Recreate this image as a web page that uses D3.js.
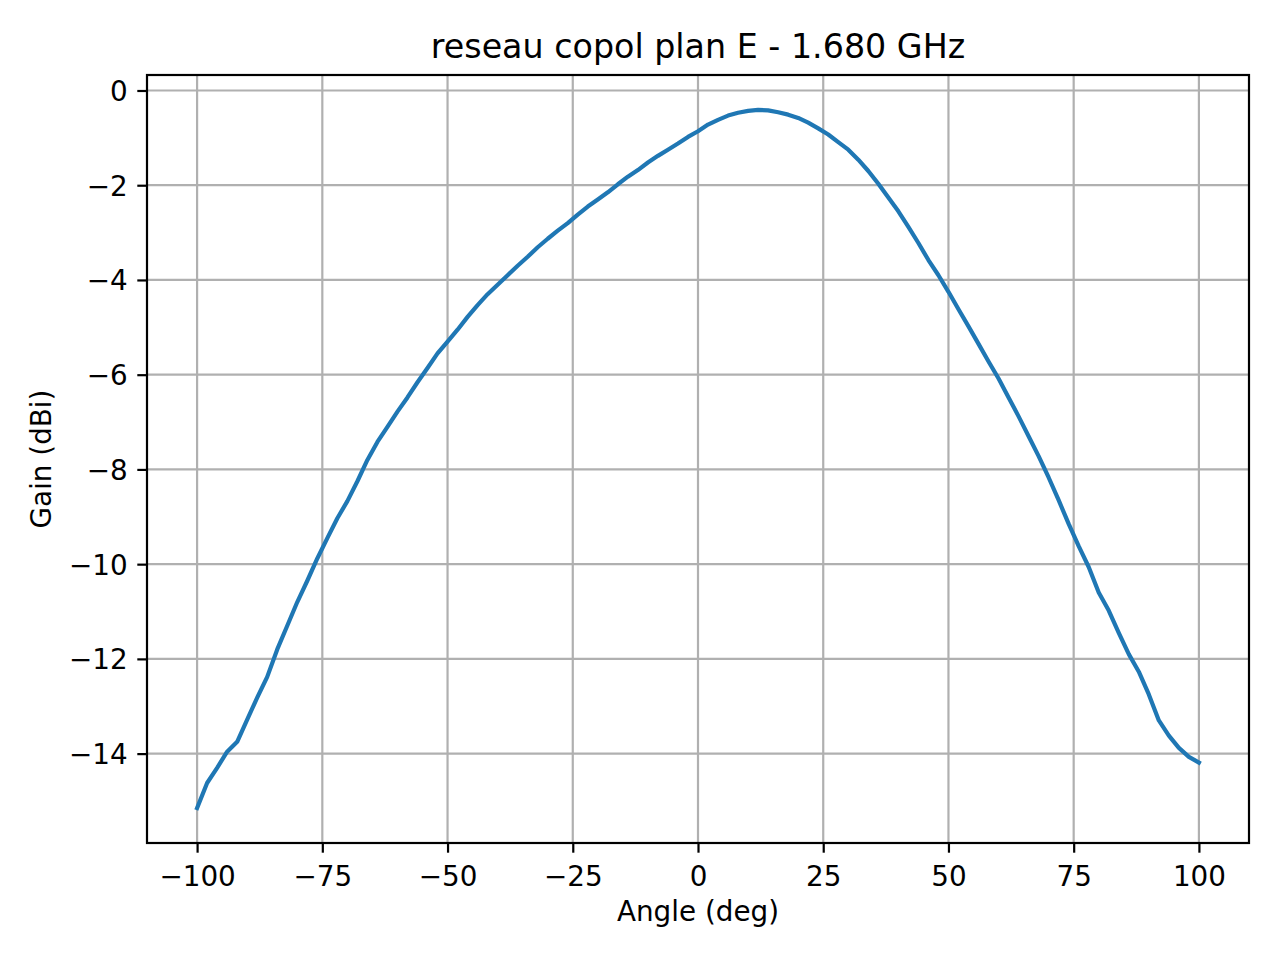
<!DOCTYPE html>
<html>
<head>
<meta charset="utf-8">
<script src="https://cdn.jsdelivr.net/npm/d3@7"></script>
<style>
  body { margin: 0; background: #fff; }
  svg { display: block; font-family: "DejaVu Sans", sans-serif; }
</style>
</head>
<body>
<svg id="chart" width="1280" height="960"></svg>
<script>
var angles = [-100,-98,-96,-94,-92,-90,-88,-86,-84,-82,-80,-78,-76,-74,-72,-70,-68,-66,-64,-62,
  -60,-58,-56,-54,-52,-50,-48,-46,-44,-42,-40,-38,-36,-34,-32,-30,-28,-26,-24,-22,
  -20,-18,-16,-14,-12,-10,-8,-6,-4,-2,0,2,4,6,8,10,12,14,16,18,
  20,22,24,26,28,30,32,34,36,38,40,42,44,46,48,50,52,54,56,58,
  60,62,64,66,68,70,72,74,76,78,80,82,84,86,88,90,92,94,96,98,100];
var gains = [-15.15,-14.62,-14.30,-13.96,-13.75,-13.28,-12.82,-12.38,-11.80,-11.30,
  -10.80,-10.35,-9.88,-9.45,-9.03,-8.67,-8.25,-7.80,-7.42,-7.10,
  -6.78,-6.48,-6.16,-5.86,-5.55,-5.30,-5.05,-4.78,-4.53,-4.30,
  -4.10,-3.90,-3.70,-3.51,-3.31,-3.13,-2.96,-2.80,-2.62,-2.45,
  -2.30,-2.15,-1.98,-1.82,-1.68,-1.52,-1.38,-1.25,-1.12,-0.98,
  -0.86,-0.72,-0.62,-0.53,-0.47,-0.43,-0.41,-0.42,-0.46,-0.51,
  -0.58,-0.68,-0.80,-0.93,-1.09,-1.25,-1.46,-1.70,-1.97,-2.26,
  -2.55,-2.88,-3.22,-3.58,-3.90,-4.25,-4.62,-4.98,-5.35,-5.72,
  -6.08,-6.48,-6.88,-7.30,-7.72,-8.17,-8.65,-9.15,-9.62,-10.06,
  -10.60,-10.98,-11.45,-11.90,-12.27,-12.75,-13.30,-13.62,-13.88,-14.07,-14.19];
var xTicks = [-100, -75, -50, -25, 0, 25, 50, 75, 100];
var yTicks = [0, -2, -4, -6, -8, -10, -12, -14];

initchart();

function initchart() {
  var svg = d3.select('#chart');
  var mLeft = 147, mRight = 1249, mTop = 75, mBottom = 843;

  var x = d3.scaleLinear().domain([-110, 110]).range([mLeft, mRight]);
  var ymin = d3.min(gains), ymax = d3.max(gains);
  var pad = (ymax - ymin) * 0.05;   // matplotlib style margin
  var y = d3.scaleLinear().domain([ymin - pad, ymax + pad]).range([mBottom, mTop]);

  // grid
  var grid = svg.append('g').attr('stroke', '#b0b0b0').attr('stroke-width', 2.2);
  grid.selectAll('.vx').data(xTicks).enter().append('line')
    .attr('x1', d => x(d)).attr('x2', d => x(d))
    .attr('y1', mTop).attr('y2', mBottom);
  grid.selectAll('.hy').data(yTicks).enter().append('line')
    .attr('y1', d => y(d)).attr('y2', d => y(d))
    .attr('x1', mLeft).attr('x2', mRight);

  // the curve
  var line = d3.line()
    .x((d, i) => x(angles[i]))
    .y(d => y(d));
  svg.append('path')
    .attr('d', line(gains))
    .attr('fill', 'none')
    .attr('stroke', '#1f77b4')
    .attr('stroke-width', 4.2)
    .attr('stroke-linejoin', 'round')
    .attr('stroke-linecap', 'square');

  // axes
  var xAxis = svg.append('g')
    .attr('transform', `translate(0, ${mBottom})`)
    .call(d3.axisBottom(x).tickValues(xTicks).tickSize(9.7).tickPadding(9.7).tickSizeOuter(0));
  var yAxis = svg.append('g')
    .attr('transform', `translate(${mLeft}, 0)`)
    .call(d3.axisLeft(y).tickValues(yTicks).tickSize(9.7).tickPadding(9.7).tickSizeOuter(0));
  [xAxis, yAxis].forEach(function(a) {
    a.select('.domain').remove();
    a.selectAll('.tick line').attr('stroke', '#000').attr('stroke-width', 2.2);
    a.selectAll('.tick text').attr('fill', '#000')
      .style('font-size', '27.8px').style('font-family', '"DejaVu Sans", sans-serif');
  });
  xAxis.selectAll('.tick text').attr('dy', '0.84em');
  yAxis.selectAll('.tick text').attr('dy', '0.36em');

  // frame
  svg.append('rect')
    .attr('x', mLeft).attr('y', mTop)
    .attr('width', mRight - mLeft).attr('height', mBottom - mTop)
    .attr('fill', 'none').attr('stroke', '#000').attr('stroke-width', 2.2);

  // labels
  svg.append('text')
    .attr('x', (mLeft + mRight) / 2).attr('y', 58)
    .attr('text-anchor', 'middle')
    .style('font-size', '33.3px')
    .text('reseau copol plan E - 1.680 GHz');
  svg.append('text')
    .attr('x', (mLeft + mRight) / 2).attr('y', 921)
    .attr('text-anchor', 'middle')
    .style('font-size', '27.8px')
    .text('Angle (deg)');
  svg.append('text')
    .attr('transform', `translate(51, ${(mTop + mBottom) / 2}) rotate(-90)`)
    .attr('text-anchor', 'middle')
    .style('font-size', '27.8px')
    .text('Gain (dBi)');
}
</script>
</body>
</html>
